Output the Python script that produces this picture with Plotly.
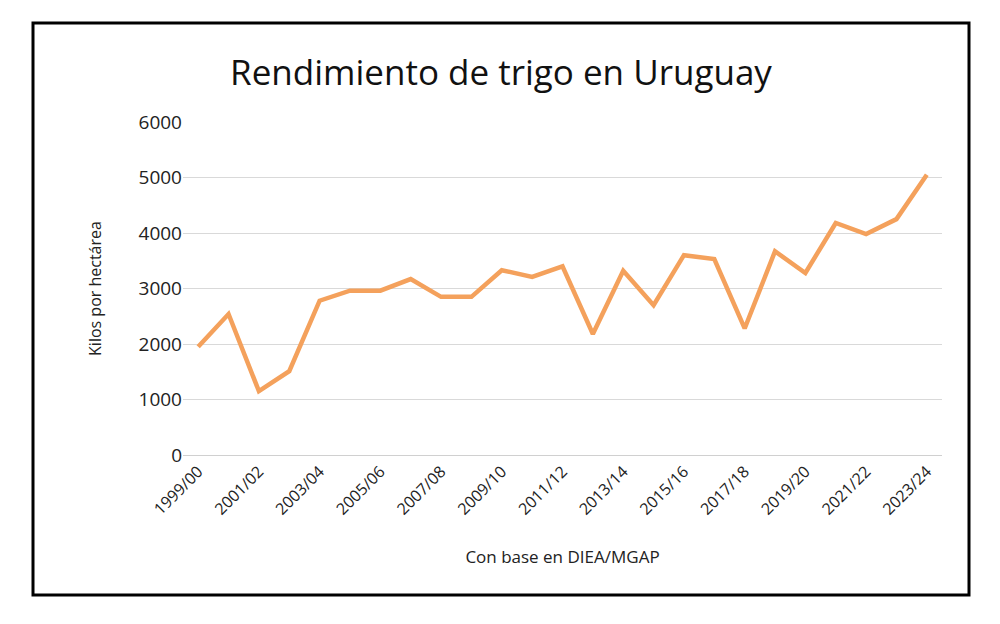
import plotly.graph_objects as go

seasons = ["1999/00","2000/01","2001/02","2002/03","2003/04","2004/05","2005/06","2006/07",
           "2007/08","2008/09","2009/10","2010/11","2011/12","2012/13","2013/14","2014/15",
           "2015/16","2016/17","2017/18","2018/19","2019/20","2020/21","2021/22","2022/23","2023/24"]
yields = [1950,2540,1150,1510,2780,2960,2960,3170,2850,2850,3330,3210,3400,2180,3320,2700,
          3600,3530,2280,3670,3280,4180,3980,4250,5050]
tick_labels = seasons[::2]

fig = go.Figure(go.Scatter(x=seasons, y=yields, mode="lines",
                           line=dict(color="#F4A15C", width=4.5)))
W, H = 1000, 624
dx, dy = 7, 7
l, r, t, b = 182 - dx, 59 + dx, 121 - dy, 170 + dy
pw, ph = W - l - r, H - t - b
fig.update_layout(
    width=W, height=H, margin=dict(l=l, r=r, t=t, b=b),
    paper_bgcolor="white", plot_bgcolor="white",
    font=dict(family="Open Sans, Liberation Sans, sans-serif", color="#222", size=17),
    title=dict(text="Rendimiento de trigo en Uruguay", x=(500 - dx) / W, xanchor="center",
               y=1 - (72 - dy) / H, yanchor="middle", font=dict(size=35, color="#111")),
    showlegend=False,
    xaxis=dict(type="category", tickmode="array", tickvals=tick_labels, ticktext=tick_labels,
               range=[-0.5, len(seasons) - 0.5],
               tickangle=-45, showgrid=False, showline=True, linecolor="#d0d0d0",
               ticks="", tickfont=dict(size=16),
               title=dict(text="Con base en DIEA/MGAP", font=dict(size=17), standoff=32)),
    yaxis=dict(range=[0, 6000], dtick=1000, gridcolor="#d9d9d9", zeroline=False,
               showline=False, ticks="", tickfont=dict(size=19),
               title=dict(text="Kilos por hectárea", font=dict(size=16), standoff=32)),
)
fig.add_shape(type="rect", xref="paper", yref="paper",
              x0=(32 - dx - l) / pw, x1=(968 - dx - l) / pw,
              y0=(H - b - (594 - dy)) / ph, y1=(H - b - (22 - dy)) / ph,
              line=dict(color="black", width=3))
fig.write_html("out.html")
